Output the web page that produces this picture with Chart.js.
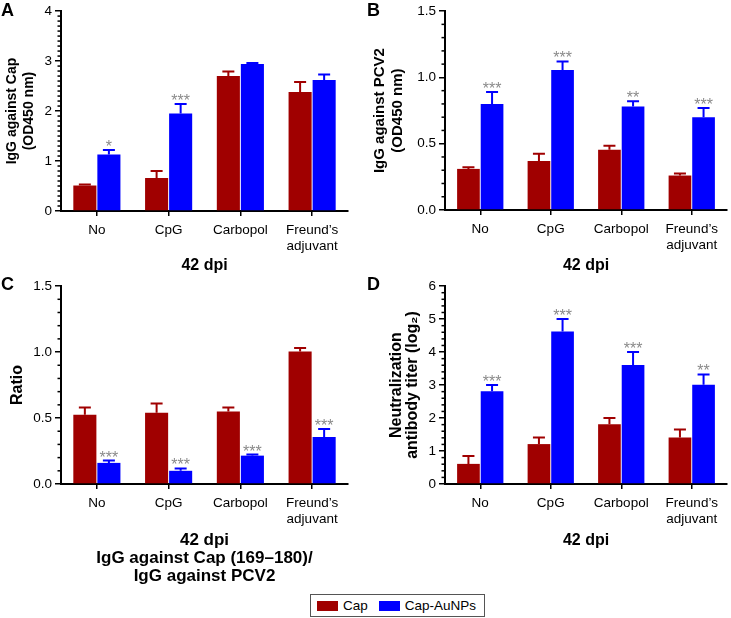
<!DOCTYPE html>
<html>
<head>
<meta charset="utf-8">
<script src="https://cdn.jsdelivr.net/npm/chart.js@4.4.0/dist/chart.umd.min.js"></script>
<style>
  body { margin: 0; background: #fff; font-family: "Liberation Sans", Arial, sans-serif; }
  #fig { position: relative; width: 731px; height: 618px; overflow: hidden; }
  canvas { position: absolute; }
  .tag { position: absolute; font-weight: bold; font-size: 18px; line-height: 18px; color: #000; }
  #legend { position: absolute; left: 310px; top: 594px; width: 175px; height: 23px; border: 1px solid #555;
            display: flex; align-items: center; font-size: 13.5px; box-sizing: border-box; padding-left: 6px; white-space: nowrap; }
  #legend span.sw { display: inline-block; width: 21px; height: 10px; margin-right: 5px; }
  #legend span.item { display: flex; align-items: center; margin-right: 11px; }
</style>
</head>
<body>
<div id="fig">
  <canvas id="chartA" width="365" height="275" style="left:0;top:0"></canvas>
  <canvas id="chartB" width="366" height="275" style="left:365px;top:0"></canvas>
  <canvas id="chartC" width="365" height="310" style="left:0;top:275px"></canvas>
  <canvas id="chartD" width="366" height="275" style="left:365px;top:275px"></canvas>
  <div class="tag" style="left:1px;top:1px">A</div>
  <div class="tag" style="left:367px;top:1px">B</div>
  <div class="tag" style="left:1px;top:275px">C</div>
  <div class="tag" style="left:367px;top:275px">D</div>
  <div id="legend"></div>
</div>
<script>
const categories = ['No', 'CpG', 'Carbopol', 'Freund’s adjuvant'];
const seriesNames = ['Cap', 'Cap-AuNPs'];
const seriesColors = ['#A00000', '#0000FF'];

// A: IgG against Cap
const capA = [0.51, 0.66, 2.70, 2.38];
const capSemA = [0.02, 0.14, 0.09, 0.20];
const npsA = [1.13, 1.95, 2.94, 2.62];
const npsSemA = [0.09, 0.19, 0.02, 0.11];
const starsA = ['*', '***', '', ''];
const ticksA = [0, 1, 2, 3, 4];

// B: IgG against PCV2
const capB = [0.31, 0.37, 0.455, 0.26];
const capSemB = [0.012, 0.055, 0.03, 0.015];
const npsB = [0.80, 1.055, 0.78, 0.70];
const npsSemB = [0.09, 0.065, 0.04, 0.07];
const starsB = ['***', '***', '**', '***'];
const ticksB = [0, 0.5, 1.0, 1.5];

// C: ratio
const capC = [0.525, 0.54, 0.55, 1.005];
const capSemC = [0.055, 0.07, 0.03, 0.025];
const npsC = [0.16, 0.10, 0.215, 0.357];
const npsSemC = [0.018, 0.018, 0.008, 0.06];
const starsC = ['***', '***', '***', '***'];
const ticksC = [0, 0.5, 1.0, 1.5];

// D: neutralization titer
const capD = [0.61, 1.21, 1.81, 1.41];
const capSemD = [0.24, 0.20, 0.19, 0.24];
const npsD = [2.81, 4.62, 3.61, 3.01];
const npsSemD = [0.19, 0.38, 0.39, 0.31];
const starsD = ['***', '***', '***', '**'];
const ticksD = [0, 1, 2, 3, 4, 5, 6];

Chart.defaults.font.family = '"Liberation Sans", Arial, sans-serif';
Chart.defaults.color = '#000';

/* error bars (upper only) + significance stars */
const errorBars = {
  id: 'errorBars',
  afterDatasetsDraw(chart) {
    const ctx = chart.ctx;
    const y = chart.scales.y;
    chart.data.datasets.forEach((ds, di) => {
      const meta = chart.getDatasetMeta(di);
      meta.data.forEach((bar, i) => {
        const top = y.getPixelForValue(ds.data[i] + ds.sem[i]);
        ctx.save();
        ctx.strokeStyle = ds.backgroundColor;
        ctx.lineWidth = 2;
        ctx.beginPath();
        ctx.moveTo(bar.x, bar.y);
        ctx.lineTo(bar.x, top);
        ctx.moveTo(bar.x - 6, top);
        ctx.lineTo(bar.x + 6, top);
        ctx.stroke();
        if (ds.stars && ds.stars[i]) {
          ctx.fillStyle = '#8a8a8a';
          ctx.font = '16px "Liberation Sans", Arial, sans-serif';
          ctx.textAlign = 'center';
          ctx.textBaseline = 'alphabetic';
          ctx.fillText(ds.stars[i], bar.x, top + 2);
        }
        ctx.restore();
      });
    });
  }
};

/* short minor ticks on the y axis */
const minorTicks = {
  id: 'minorTicks',
  afterDraw(chart, args, opts) {
    const ctx = chart.ctx;
    const y = chart.scales.y;
    const x0 = chart.chartArea.left;
    const n = Math.round(y.max / opts.step);
    ctx.save();
    ctx.strokeStyle = '#000';
    ctx.lineWidth = 1.5;
    for (let i = 1; i < n; i++) {
      const v = i * opts.step;
      const r = v / opts.major;
      if (Math.abs(r - Math.round(r)) < 1e-6) continue;
      const py = y.getPixelForValue(v);
      ctx.beginPath();
      ctx.moveTo(x0 - 3.5, py);
      ctx.lineTo(x0, py);
      ctx.stroke();
    }
    ctx.restore();
  }
};

function makeChart(id, p) {
  return new Chart(document.getElementById(id), {
    type: 'bar',
    data: {
      labels: categories,
      datasets: [
        { label: seriesNames[0], data: p.cap, sem: p.capSem, backgroundColor: seriesColors[0] },
        { label: seriesNames[1], data: p.nps, sem: p.npsSem, stars: p.stars, backgroundColor: seriesColors[1] }
      ]
    },
    options: {
      responsive: false,
      animation: false,
      events: [],
      layout: { padding: { top: 10, right: p.padRight, left: 0, bottom: 0 } },
      datasets: { bar: { barPercentage: 0.96, categoryPercentage: 0.67 } },
      plugins: {
        legend: { display: false },
        tooltip: { enabled: false },
        minorTicks: { step: p.minor, major: p.ticks[1] - p.ticks[0] }
      },
      scales: {
        x: {
          grid: { display: true, drawOnChartArea: false, offset: false, tickLength: 5, color: '#000', lineWidth: 1.5 },
          border: { color: '#000', width: 2 },
          ticks: {
            font: { size: 13.5 }, padding: 6, maxRotation: 0, autoSkip: false,
            callback: function (v) {
              const s = this.getLabelForValue(v);
              return s.indexOf(' ') > 0 ? s.split(' ') : s;
            }
          },
          title: { display: true, text: p.xTitle, font: { size: p.xTitleSize, weight: 'bold', lineHeight: p.xTitleLh }, padding: { top: 0, bottom: 0 } },
          afterFit: s => { s.height = p.xHeight; }
        },
        y: {
          min: 0,
          max: p.ticks[p.ticks.length - 1],
          afterBuildTicks: s => { s.ticks = p.ticks.map(v => ({ value: v })); },
          ticks: { font: { size: 13.5 }, padding: 3, callback: v => v.toFixed(p.dec) },
          grid: { drawOnChartArea: false, tickLength: 6, color: '#000', lineWidth: 1.5 },
          border: { color: '#000', width: 2 },
          title: { display: true, text: p.yTitle, font: { size: p.yTitleSize, weight: 'bold', lineHeight: p.yTitleLh }, padding: { top: p.yTitlePad, bottom: 0 } },
          afterFit: s => { s.width = p.yWidth; }
        }
      }
    },
    plugins: [errorBars, minorTicks]
  });
}

makeChart('chartA', {
  cap: capA, capSem: capSemA, nps: npsA, npsSem: npsSemA, stars: starsA, ticks: ticksA, minor: 0.1, dec: 0,
  yTitle: ['IgG against Cap', '(OD450 nm)'], yTitleSize: 14, yTitleLh: 1.25, yTitlePad: 3, yWidth: 61,
  xTitle: '42 dpi', xTitleSize: 16, xTitleLh: 1.2, xHeight: 64, padRight: 17
});
makeChart('chartB', {
  cap: capB, capSem: capSemB, nps: npsB, npsSem: npsSemB, stars: starsB, ticks: ticksB, minor: 0.1, dec: 1,
  yTitle: ['IgG against PCV2', '(OD450 nm)'], yTitleSize: 15, yTitleLh: 1.2, yTitlePad: 6, yWidth: 80,
  xTitle: '42 dpi', xTitleSize: 16, xTitleLh: 1.2, xHeight: 65, padRight: 4
});
makeChart('chartC', {
  cap: capC, capSem: capSemC, nps: npsC, npsSem: npsSemC, stars: starsC, ticks: ticksC, minor: 0.1, dec: 1,
  yTitle: 'Ratio', yTitleSize: 16, yTitleLh: 1.2, yTitlePad: 8, yWidth: 61,
  xTitle: ['42 dpi', 'IgG against Cap (169–180)/', 'IgG against PCV2'], xTitleSize: 17, xTitleLh: 1.06, xHeight: 101, padRight: 17
});
makeChart('chartD', {
  cap: capD, capSem: capSemD, nps: npsD, npsSem: npsSemD, stars: starsD, ticks: ticksD, minor: 0.2, dec: 0,
  yTitle: ['Neutralization', 'antibody titer (log₂)'], yTitleSize: 16, yTitleLh: 1.0, yTitlePad: 24, yWidth: 80,
  xTitle: '42 dpi', xTitleSize: 16, xTitleLh: 1.2, xHeight: 66, padRight: 4
});

/* legend */
let legend = document.getElementById('legend');
seriesNames.forEach((name, i) => {
  legend.innerHTML += `<span class="item"><span class="sw" style="background:${seriesColors[i]}"></span>${name}</span>`;
});
</script>
</body>
</html>
